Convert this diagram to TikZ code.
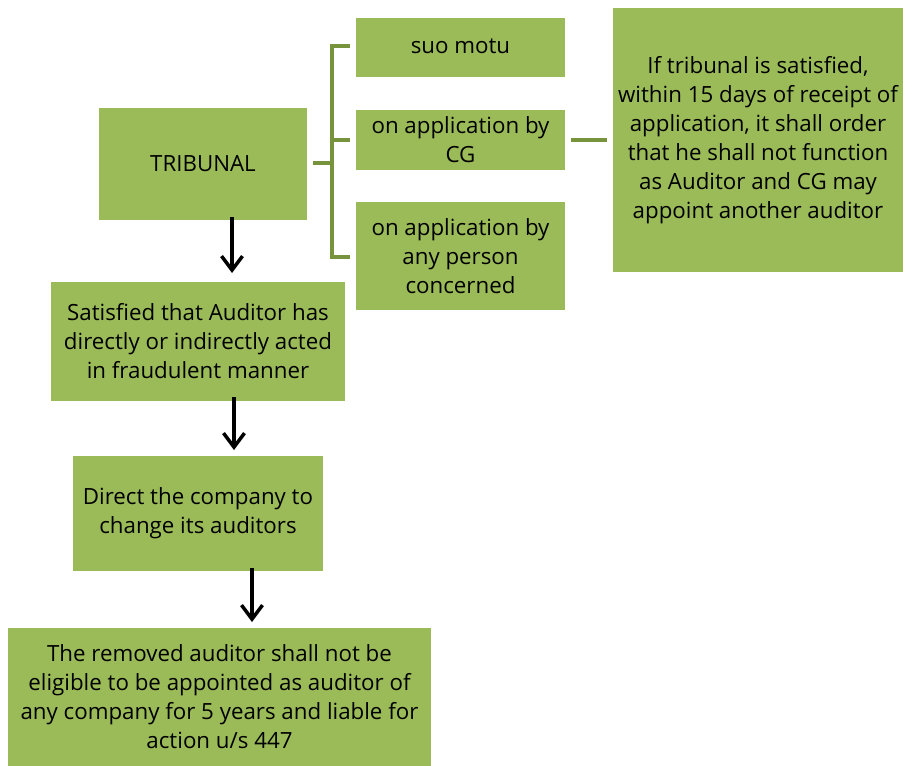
\documentclass[tikz,border=0pt]{standalone}
\usepackage{fontspec}
\setmainfont{Open Sans}
\usetikzlibrary{arrows.meta}
\definecolor{boxgreen}{HTML}{9BBB59}
\definecolor{linegreen}{HTML}{77933C}
\tikzset{
  gbox/.style={fill=boxgreen, draw=none, inner sep=0pt, align=center,
    font=\fontsize{22.3}{29}\selectfont, text=black},
  brk/.style={draw=linegreen, line width=4.5pt},
  arr/.style={draw=black, line width=3.5pt, -{Straight Barb[length=14pt,width=21pt,line width=3.5pt]}}
}
\begin{document}
\begin{tikzpicture}[x=1pt,y=-1pt]
\useasboundingbox (0,0) rectangle (904,765);
% boxes (pixel coordinates, y downward)
\node[gbox, minimum width=208pt, minimum height=112pt] (tri) at (203,164) {TRIBUNAL};
\node[gbox, minimum width=209pt, minimum height=59pt] (suo) at (460.5,47.5) {\strut suo motu};
\node[gbox, minimum width=209pt, minimum height=60pt] (cg) at (460.5,140) {on application by\\CG};
\node[gbox, minimum width=209pt, minimum height=108pt] (any) at (460.5,256) {on application by\\any person\\concerned};
\node[gbox, minimum width=290pt, minimum height=264pt] (res) at (758,140) {If tribunal is satisfied,\\within 15 days of receipt of\\application, it shall order\\that he shall not function\\as Auditor and CG may\\appoint another auditor};
\node[gbox, minimum width=294pt, minimum height=119pt] (sat) at (198,341.5) {Satisfied that Auditor has\\directly or indirectly acted\\in fraudulent manner};
\node[gbox, minimum width=250pt, minimum height=115pt] (dir) at (198,513.5) {Direct the company to\\change its auditors};
\node[gbox, minimum width=423pt, minimum height=139pt] (rem) at (219.5,697) {The removed auditor shall not be\\eligible to be appointed as auditor of\\any company for 5 years and liable for\\action u/s 447};
% bracket
\coordinate (bx) at (332,163);
\coordinate (bt) at (332,46);
\coordinate (bb) at (332,257);
\coordinate (s1) at (350,46);
\coordinate (s2) at (350,140);
\coordinate (s3) at (350,257);
\coordinate (t0) at (313,163);
\draw[brk] (t0) -- (bx);
\draw[brk] (s1) -- (bt) -- (bb) -- (s3);
\draw[brk] (bx |- s2) -- (s2);
\coordinate (c1) at (571,140);
\coordinate (c2) at (607,140);
\draw[brk] (c1) -- (c2);
% arrows
\coordinate (a1s) at (232,217);
\coordinate (a1e) at (232,273);
\coordinate (a2s) at (234,397);
\coordinate (a2e) at (234,450);
\coordinate (a3s) at (252,568);
\coordinate (a3e) at (252,622);
\draw[arr] (a1s) -- (a1e);
\draw[arr] (a2s) -- (a2e);
\draw[arr] (a3s) -- (a3e);
\end{tikzpicture}
\end{document}
